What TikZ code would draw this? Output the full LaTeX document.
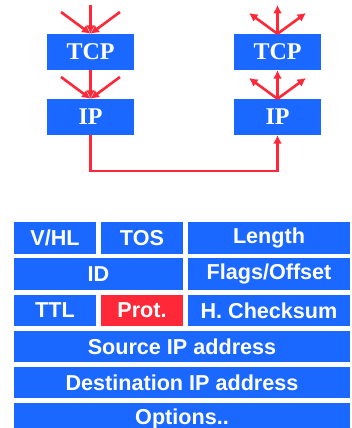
\documentclass[tikz,border=0pt]{standalone}
\usepackage{fontspec}
\usetikzlibrary{arrows.meta}
\newfontfamily\cellfont{Liberation Sans}
\newfontfamily\layerfont{Liberation Serif}
\definecolor{hdrblue}{RGB}{26,104,255}
\definecolor{flowred}{RGB}{255,40,56}
\begin{document}
\begin{tikzpicture}[x=1pt,y=-1pt,
  layer/.style={fill=hdrblue, draw=none, text=white, inner sep=0pt,
    minimum width=87pt, minimum height=36pt,
    font=\layerfont\bfseries\fontsize{24}{26}\selectfont},
  cell/.style={fill=hdrblue, draw=none, text=white, inner sep=0pt,
    minimum height=31.5pt,
    font=\cellfont\bfseries\fontsize{21.6}{24}\selectfont},
  flow/.style={draw=flowred, line width=2.6pt, -{Latex[length=8.5pt,width=9pt]}},
  wire/.style={draw=flowred, line width=2.6pt}
]
\useasboundingbox (0,0) rectangle (352,428);
\clip (0,0) rectangle (352,428);

% protocol stacks
\node[layer] (tcpL) at (90.5,52) {TCP};
\node[layer] (ipL)  at (90.5,117) {IP};
\node[layer] (tcpR) at (277.5,52) {TCP};
\node[layer] (ipR)  at (277.5,117) {IP};

% incoming arrows on the sending side
\coordinate (inA) at (90.5,5);
\coordinate (inB) at (61,12);
\coordinate (inC) at (120,12);
\coordinate (inD) at (61,77);
\coordinate (inE) at (120,77);
\draw[flow] (inA) -- (tcpL.north);
\draw[flow] (inB) -- (tcpL.north);
\draw[flow] (inC) -- (tcpL.north);
\draw[flow] (tcpL.south) -- (ipL.north);
\draw[flow] (inD) -- (ipL.north);
\draw[flow] (inE) -- (ipL.north);

% outgoing arrows on the receiving side
\coordinate (outA) at (277.5,5);
\coordinate (outB) at (249,13);
\coordinate (outC) at (306,13);
\coordinate (outD) at (249,78);
\coordinate (outE) at (306,78);
\draw[flow] (tcpR.north) -- (outA);
\draw[flow] (tcpR.north) -- (outB);
\draw[flow] (tcpR.north) -- (outC);
\draw[flow] (ipR.north) -- (tcpR.south);
\draw[flow] (ipR.north) -- (outD);
\draw[flow] (ipR.north) -- (outE);

% link between the two hosts
\draw[flow] (ipL.south) |- (184,171) -| (ipR.south);

% IP header layout
\node[cell, minimum width=82pt]  (vhl)  at (55,238)    {V/HL};
\node[cell, minimum width=82pt]  (tos)  at (142,238)   {TOS};
\node[cell, minimum width=162pt] (len)  at (269,238)   {Length};
\node[cell, minimum width=169pt] (id)   at (98.5,274)  {ID};
\node[cell, minimum width=162pt] (flag) at (269,274)   {Flags/Offset};
\node[cell, minimum width=82pt]  (ttl)  at (55,310.3)  {TTL};
\node[cell, minimum width=82pt, fill=flowred] (prot) at (142,310.3) {Prot.};
\node[cell, minimum width=162pt] (hck)  at (269,310.3) {H. Checksum};
\node[cell, minimum width=336pt] (src)  at (182,346.5) {Source IP address};
\node[cell, minimum width=336pt] (dst)  at (182,382.7) {Destination IP address};
\node[cell, minimum width=336pt] (opt)  at (182,418.9) {Options..};
\end{tikzpicture}
\end{document}
